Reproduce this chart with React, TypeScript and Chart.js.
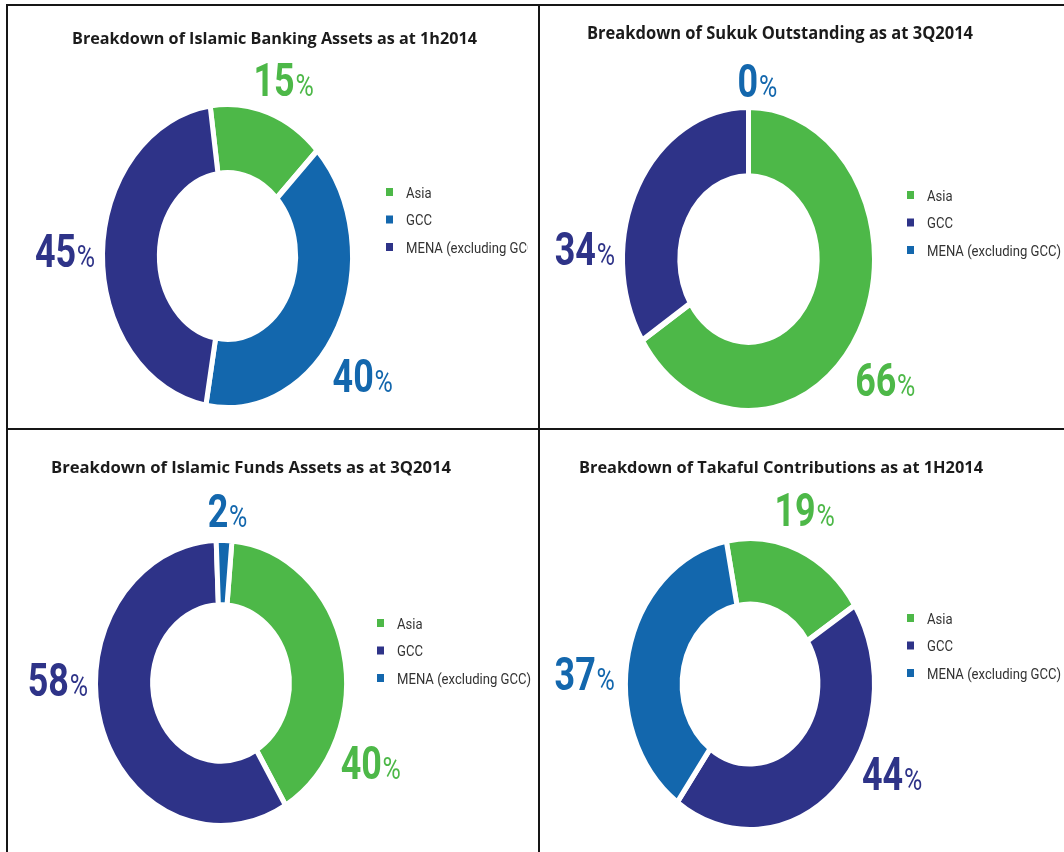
import React, { useEffect, useRef } from "react";
import { Chart, registerables } from "chart.js";

Chart.register(...registerables);

// Categories shared by every breakdown
const REGIONS = ["Asia", "GCC", "MENA (excluding GCC)"];

// Shares (%) per region, in REGIONS order
const BANKING_TITLE = "Breakdown of Islamic Banking Assets as at 1h2014";
const BANKING_SHARES = [15, 40, 45];

const SUKUK_TITLE = "Breakdown of Sukuk Outstanding as at 3Q2014";
const SUKUK_SHARES = [66, 34, 0];

const FUNDS_TITLE = "Breakdown of Islamic Funds Assets as at 3Q2014";
const FUNDS_SHARES = [40, 58, 2];

const TAKAFUL_TITLE = "Breakdown of Takaful Contributions as at 1H2014";
const TAKAFUL_SHARES = [19, 44, 37];

// Palette
const GREEN = "#4db848";
const NAVY = "#2e3388";
const BLUE = "#1367ad";

const BORDER = 5;
const LINE = "#161616";

type Layout = {
  left: number;
  top: number;
  width: number;
  height: number;
  cx: number;
  cy: number;
  rx: number;
  ry: number;
  rotation: number;
  titleX: number;
  titleY: number;
  titleWidth: number;
  titleSize: number;
  legendX: number;
  legendY: number;
  legendClip?: number;
  // where each share label sits: [angle clockwise from 12 o'clock, distance in ring radii]
  labelSpots: [number, number][];
};

const BANKING_LAYOUT: Layout = {
  left: 8, top: 6, width: 530, height: 422,
  cx: 219.5, cy: 250, rx: 122.5, ry: 149, rotation: -8,
  titleX: 64, titleY: 32, titleWidth: 405, titleSize: 16,
  legendX: 378, legendY: 186, legendClip: 520,
  labelSpots: [[21, 1.27], [126, 1.36], [271.5, 1.33]],
};

const SUKUK_LAYOUT: Layout = {
  left: 540, top: 6, width: 524, height: 422,
  cx: 208.5, cy: 253, rx: 123.5, ry: 149, rotation: 0,
  titleX: 47, titleY: 27, titleWidth: 386, titleSize: 17,
  legendX: 367, legendY: 189,
  labelSpots: [[126.3, 1.37], [273, 1.33], [3.3, 1.2]],
};

const FUNDS_LAYOUT: Layout = {
  left: 8, top: 430, width: 530, height: 422,
  cx: 213, cy: 253, rx: 123, ry: 140, rotation: 5,
  titleX: 43, titleY: 37, titleWidth: 400, titleSize: 16,
  legendX: 369, legendY: 193,
  labelSpots: [[115, 1.34], [271, 1.33], [2.3, 1.23]],
};

const TAKAFUL_LAYOUT: Layout = {
  left: 540, top: 430, width: 524, height: 422,
  cx: 210, cy: 254, rx: 122, ry: 143, rotation: -11,
  titleX: 39, titleY: 37, titleWidth: 404, titleSize: 16,
  legendX: 367, legendY: 188,
  labelSpots: [[20, 1.3], [118.4, 1.32], [273.2, 1.36]],
};

function drawShare(ctx: CanvasRenderingContext2D, x: number, y: number, value: number, color: string) {
  const sx = 0.78;
  const digits = String(value);
  const digitFont = "700 46px Roboto";
  const pctFont = "400 32px Roboto";
  ctx.save();
  ctx.font = digitFont;
  const wd = ctx.measureText(digits).width;
  ctx.font = pctFont;
  const wp = ctx.measureText("%").width;
  const total = (wd + wp) * sx;
  ctx.translate(x - total / 2, y + 16.5);
  ctx.scale(sx, 1);
  ctx.fillStyle = color;
  ctx.textBaseline = "alphabetic";
  ctx.textAlign = "left";
  ctx.font = digitFont;
  ctx.fillText(digits, 0, 0);
  ctx.font = pctFont;
  ctx.fillText("%", wd + 1, 0);
  ctx.restore();
}

function makePlugins(L: Layout, title: string) {
  const stretch = L.ry / L.rx;

  // squeeze the round doughnut into the tall ellipse around its own centre
  const ellipse = {
    id: "ellipse",
    beforeDatasetsDraw(chart: Chart) {
      const arc: any = chart.getDatasetMeta(0).data[0];
      const { x, y } = arc;
      const ctx = chart.ctx;
      ctx.save();
      ctx.translate(x, y);
      ctx.scale(1, stretch);
      ctx.translate(-x, -y);
    },
    afterDatasetsDraw(chart: Chart) {
      chart.ctx.restore();
    },
  };

  // heading, legend and share labels
  const decorations = {
    id: "decorations",
    afterDraw(chart: Chart) {
      const ctx = chart.ctx;
      const ds: any = chart.data.datasets[0];
      const labels = chart.data.labels as string[];
      const colors = ds.backgroundColor as string[];

      // heading
      ctx.save();
      ctx.font = `700 ${L.titleSize}px "Open Sans"`;
      ctx.textBaseline = "alphabetic";
      ctx.textAlign = "left";
      const tw = ctx.measureText(title).width;
      ctx.translate(L.titleX, L.titleY + L.titleSize * 0.36);
      ctx.scale(L.titleWidth / tw, 1);
      ctx.fillStyle = "#1b1b1b";
      ctx.fillText(title, 0, 0);
      ctx.restore();

      // legend
      labels.forEach((lab, i) => {
        const y = L.legendY + i * 27.5;
        ctx.fillStyle = colors[i];
        ctx.fillRect(L.legendX, y - 4, 7, 8);
        ctx.save();
        if (L.legendClip) {
          ctx.beginPath();
          ctx.rect(0, 0, L.legendClip, L.height);
          ctx.clip();
        }
        ctx.translate(L.legendX + 20, y + 5.5);
        ctx.scale(0.845, 1);
        ctx.font = "400 15.5px Roboto";
        ctx.textBaseline = "alphabetic";
        ctx.textAlign = "left";
        ctx.fillStyle = "#333333";
        ctx.fillText(lab, 0, 0);
        ctx.restore();
      });

      // share labels around the ring
      const meta = chart.getDatasetMeta(0);
      const arc0: any = meta.data[0];
      const rx = arc0.outerRadius - BORDER / 2;
      const ry = rx * stretch;
      (ds.data as number[]).forEach((v, i) => {
        const [deg, dist] = L.labelSpots[i];
        const a = (deg * Math.PI) / 180;
        const x = arc0.x + Math.sin(a) * rx * dist;
        const y = arc0.y - Math.cos(a) * ry * dist;
        drawShare(ctx, x, y, v, colors[i]);
      });
    },
  };

  return [ellipse, decorations];
}

function Breakdown({ layout, title, shares, colors }: { layout: Layout; title: string; shares: number[]; colors: string[] }) {
  const ref = useRef<HTMLCanvasElement>(null);

  useEffect(() => {
    const canvas = ref.current;
    if (!canvas) return;
    const L = layout;
    const a = L.rx + 20;
    const chart = new Chart(canvas, {
      type: "doughnut",
      data: {
        labels: REGIONS,
        datasets: [
          {
            data: shares,
            backgroundColor: colors,
            borderColor: "#ffffff",
            borderWidth: BORDER,
            borderJoinStyle: "miter",
            hoverOffset: 0,
            clip: false,
          } as any,
        ],
      },
      options: {
        responsive: false,
        animation: false,
        devicePixelRatio: 1,
        rotation: L.rotation,
        cutout: "54.5%",
        radius: L.rx + BORDER / 2,
        events: [],
        layout: {
          padding: {
            left: L.cx - a,
            right: L.width - L.cx - a,
            top: L.cy - a,
            bottom: L.height - L.cy - a,
          },
        },
        plugins: {
          legend: { display: false },
          title: { display: false },
          tooltip: { enabled: false },
        },
      } as any,
      plugins: makePlugins(L, title) as any,
    });
    return () => chart.destroy();
  }, [layout, title, shares, colors]);

  return (
    <canvas
      ref={ref}
      width={layout.width}
      height={layout.height}
      style={{
        position: "absolute",
        left: layout.left,
        top: layout.top,
        width: layout.width,
        height: layout.height,
      }}
    />
  );
}

const line = (left: number, top: number, width: number, height: number): React.CSSProperties => ({
  position: "absolute",
  left,
  top,
  width,
  height,
  background: LINE,
});

export default function App() {
  return (
    <div
      style={{
        position: "absolute",
        left: 0,
        top: 0,
        width: 1064,
        height: 852,
        overflow: "hidden",
        background: "#ffffff",
      }}
    >
      <Breakdown layout={BANKING_LAYOUT} title={BANKING_TITLE} shares={BANKING_SHARES} colors={[GREEN, BLUE, NAVY]} />
      <Breakdown layout={SUKUK_LAYOUT} title={SUKUK_TITLE} shares={SUKUK_SHARES} colors={[GREEN, NAVY, BLUE]} />
      <Breakdown layout={FUNDS_LAYOUT} title={FUNDS_TITLE} shares={FUNDS_SHARES} colors={[GREEN, NAVY, BLUE]} />
      <Breakdown layout={TAKAFUL_LAYOUT} title={TAKAFUL_TITLE} shares={TAKAFUL_SHARES} colors={[GREEN, NAVY, BLUE]} />
      <div style={line(6, 4, 1058, 2)} />
      <div style={line(6, 4, 2, 848)} />
      <div style={line(538, 4, 2, 848)} />
      <div style={line(6, 428, 1058, 2)} />
    </div>
  );
}
